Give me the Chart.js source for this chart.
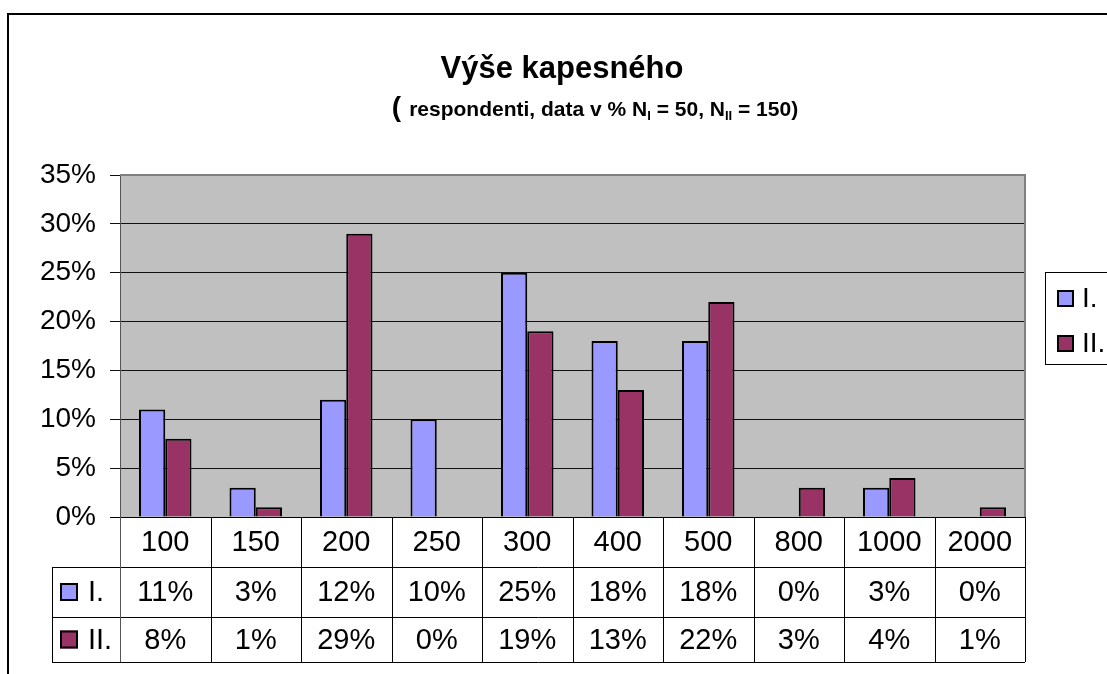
<!DOCTYPE html>
<html>
<head>
<meta charset="utf-8">
<script src="https://cdn.jsdelivr.net/npm/chart.js@4.4.1/dist/chart.umd.min.js"></script>
<style>
  html, body { margin: 0; padding: 0; background: #fff; }
  canvas { display: block; }
</style>
</head>
<body>
<canvas id="chart" width="1107" height="674"></canvas>
<script>
const fontFamily = "'Liberation Sans', Arial, sans-serif";

const categories = ['100', '150', '200', '250', '300', '400', '500', '800', '1000', '2000'];
const seriesNames = ['I.', 'II.'];
const seriesI = [11, 3, 12, 10, 25, 18, 18, 0, 3, 0];
const seriesII = [8, 1, 29, 0, 19, 13, 22, 3, 4, 1];
const seriesColors = ['#9999ff', '#993366'];
const yMax = 35;
const yStep = 5;

const title = 'Výše kapesného';
// subtitle pieces: [text, subscript?]
const subtitle = [
  ['respondenti, data v % N', false],
  ['I', true],
  [' = 50, N', false],
  ['II', true],
  [' = 150)', false]
];

// plot background + border
const plotBackground = {
  id: 'plotBackground',
  beforeDraw(chart) {
    const { ctx, chartArea: a } = chart;
    ctx.save();
    ctx.fillStyle = '#c0c0c0';
    ctx.fillRect(a.left, a.top, a.right - a.left, a.bottom - a.top);
    ctx.restore();
  },
  afterDatasetsDraw(chart) {
    const { ctx, chartArea: a } = chart;
    ctx.save();
    ctx.strokeStyle = '#808080';
    ctx.lineWidth = 2;
    ctx.beginPath();
    ctx.moveTo(a.left, a.top);
    ctx.lineTo(a.right, a.top);
    ctx.lineTo(a.right, a.bottom);
    ctx.stroke();
    ctx.restore();
  }
};

// titles, legend box, data table, outer frame
const extras = {
  id: 'extras',
  afterDraw(chart) {
    const { ctx, chartArea: a } = chart;
    ctx.save();

    // outer frame (cut off at right and bottom)
    ctx.strokeStyle = '#000';
    ctx.lineWidth = 2;
    ctx.beginPath();
    ctx.moveTo(8, 700);
    ctx.lineTo(8, 14);
    ctx.lineTo(1120, 14);
    ctx.stroke();

    // title
    ctx.fillStyle = '#000';
    ctx.textBaseline = 'alphabetic';
    ctx.textAlign = 'center';
    ctx.font = `bold 31px ${fontFamily}`;
    ctx.fillText(title, 562, 78);

    // subtitle with subscripts
    const base = 116;
    const mainFont = `bold 21px ${fontFamily}`;
    const subFont = `bold 13px ${fontFamily}`;
    const parts = subtitle.map(([t, sub]) => {
      ctx.font = sub ? subFont : mainFont;
      return { t, sub, w: ctx.measureText(t).width };
    });
    ctx.font = `bold 28px ${fontFamily}`;
    const parenW = ctx.measureText('(').width + 8;
    const total = parenW + parts.reduce((s, p) => s + p.w, 0);
    let x = 595 - total / 2;
    ctx.textAlign = 'left';
    ctx.fillText('(', x, base);
    x += parenW;
    parts.forEach(p => {
      ctx.font = p.sub ? subFont : mainFont;
      ctx.fillText(p.t, x, p.sub ? base + 4 : base);
      x += p.w;
    });

    // legend box
    ctx.strokeStyle = '#000';
    ctx.lineWidth = 1;
    ctx.strokeRect(1045.5, 272.5, 80, 92);
    ctx.font = `28px ${fontFamily}`;
    ctx.textBaseline = 'middle';
    seriesNames.forEach((name, i) => {
      const y = 298 + i * 45;
      ctx.fillStyle = seriesColors[i];
      ctx.fillRect(1057, y - 8, 17, 17);
      ctx.lineWidth = 2;
      ctx.strokeRect(1058, y - 7, 15, 15);
      ctx.fillStyle = '#000';
      ctx.fillText(name, 1082, y + 1);
    });

    // data table
    const rows = [a.bottom, 567, 617, 662];
    const colW = (a.right - a.left) / categories.length;
    const keyLeft = 52;
    ctx.strokeStyle = '#000';
    ctx.lineWidth = 1;
    ctx.beginPath();
    ctx.moveTo(a.left - 10, rows[0] + 0.5);
    ctx.lineTo(a.right, rows[0] + 0.5);
    for (let r = 1; r < rows.length; r++) {
      ctx.moveTo(keyLeft, rows[r] + 0.5);
      ctx.lineTo(a.right, rows[r] + 0.5);
    }
    ctx.moveTo(keyLeft + 0.5, rows[1]);
    ctx.lineTo(keyLeft + 0.5, rows[3]);
    for (let k = 1; k <= categories.length; k++) {
      const lx = Math.round(a.left + k * colW) + 0.5;
      ctx.moveTo(lx, rows[0]);
      ctx.lineTo(lx, rows[3]);
    }
    ctx.stroke();
    ctx.strokeStyle = '#555';
    ctx.beginPath();
    ctx.moveTo(a.left + 0.5, rows[0]);
    ctx.lineTo(a.left + 0.5, rows[3]);
    ctx.stroke();

    const xs = chart.scales.x;
    ctx.textAlign = 'center';
    ctx.textBaseline = 'middle';
    ctx.font = `29px ${fontFamily}`;
    ctx.fillStyle = '#000';
    categories.forEach((c, i) => {
      const cx = xs.getPixelForValue(i);
      ctx.fillText(c, cx, (rows[0] + rows[1]) / 2 + 1);
      ctx.fillText(seriesI[i] + '%', cx, (rows[1] + rows[2]) / 2 + 1);
      ctx.fillText(seriesII[i] + '%', cx, (rows[2] + rows[3]) / 2 + 1);
    });

    // series keys in table
    ctx.textAlign = 'left';
    seriesNames.forEach((name, i) => {
      const cy = (rows[i + 1] + rows[i + 2]) / 2;
      ctx.fillStyle = seriesColors[i];
      ctx.fillRect(60, cy - 9, 18, 18);
      ctx.strokeStyle = '#000';
      ctx.lineWidth = 2;
      ctx.strokeRect(61, cy - 8, 16, 16);
      ctx.fillStyle = '#000';
      ctx.fillText(name, 88, cy + 1);
    });

    ctx.restore();
  }
};

const noZeroBorder = c => (c.raw === 0 ? 0 : 2);

const config = {
  type: 'bar',
  data: {
    labels: categories,
    datasets: [
      {
        label: seriesNames[0],
        data: seriesI,
        backgroundColor: seriesColors[0],
        borderColor: '#000',
        borderWidth: noZeroBorder
      },
      {
        label: seriesNames[1],
        data: seriesII,
        backgroundColor: seriesColors[1],
        borderColor: '#000',
        borderWidth: noZeroBorder
      }
    ]
  },
  options: {
    responsive: false,
    animation: false,
    devicePixelRatio: 1,
    categoryPercentage: 0.58,
    barPercentage: 1,
    layout: { padding: { top: 175, right: 82, bottom: 157, left: 0 } },
    plugins: {
      legend: { display: false },
      tooltip: { enabled: false }
    },
    scales: {
      x: { display: false },
      y: {
        min: 0,
        max: yMax,
        ticks: {
          stepSize: yStep,
          callback: v => v + '%',
          color: '#000',
          padding: 14,
          font: { family: fontFamily, size: 28 }
        },
        grid: { color: '#111', lineWidth: 1, tickLength: 10 },
        border: { color: '#555', width: 1 },
        afterFit: s => { s.width = 120; }
      }
    }
  },
  plugins: [plotBackground, extras]
};

const chart = new Chart(document.getElementById('chart'), config); // eslint-disable-line
</script>
</body>
</html>
